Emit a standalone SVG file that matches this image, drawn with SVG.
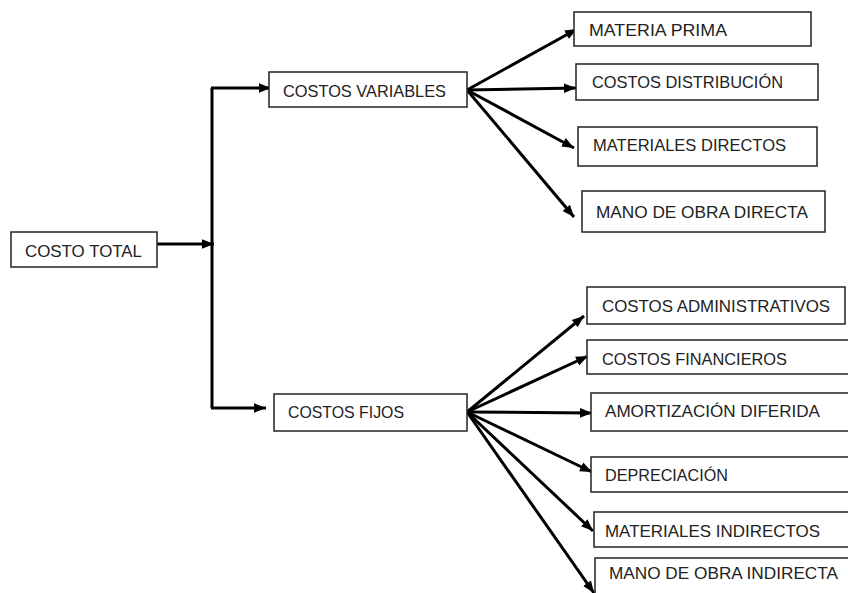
<svg xmlns="http://www.w3.org/2000/svg" width="848" height="593" viewBox="0 0 848 593">
<style>
.box{fill:#fff;stroke:#222;stroke-width:1.5}
.t{font-family:"Liberation Sans",Arial,sans-serif;font-size:17px;fill:#222}
.c{fill:none;stroke:#000;stroke-width:3;marker-end:url(#ah)}
.e{fill:none;stroke:#000;stroke-width:3}
</style>
<defs>
<marker id="ah" markerUnits="userSpaceOnUse" markerWidth="12" markerHeight="12" viewBox="0 0 10 10" refX="10" refY="5" orient="auto">
<path d="M0,1 L10,5 L0,9 z" fill="#000"/>
</marker>
</defs>
<rect width="848" height="593" fill="#fff"/>
<g id="connectors">
<path class="e" d="M157,244 H205"/>
<path class="c" d="M205,244 H214"/>
<path class="e" d="M212,408 V88"/>
<path class="c" d="M211,88 H271"/>
<path class="c" d="M211,408 H266"/>
<line class="c" x1="467" y1="90" x2="577" y2="29"/>
<line class="c" x1="467" y1="90" x2="576" y2="88"/>
<line class="c" x1="467" y1="90" x2="574" y2="148"/>
<line class="c" x1="467" y1="90" x2="574" y2="217"/>
<line class="c" x1="467" y1="412" x2="584" y2="316"/>
<line class="c" x1="467" y1="412" x2="588" y2="356"/>
<line class="c" x1="467" y1="412" x2="592" y2="413"/>
<line class="c" x1="467" y1="412" x2="592" y2="472"/>
<line class="c" x1="467" y1="412" x2="593" y2="531"/>
<line class="c" x1="467" y1="412" x2="594" y2="593"/>
</g>
<g id="n-total"><rect class="box" x="11" y="232" width="146" height="35"/><text class="t" x="25" y="257" textLength="117" lengthAdjust="spacingAndGlyphs">COSTO TOTAL</text></g>
<g id="n-variables"><rect class="box" x="269" y="72" width="198" height="35"/><text class="t" x="283" y="97" textLength="163" lengthAdjust="spacingAndGlyphs">COSTOS VARIABLES</text></g>
<g id="n-fijos"><rect class="box" x="274" y="394" width="193" height="37"/><text class="t" x="288" y="418" textLength="116" lengthAdjust="spacingAndGlyphs">COSTOS FIJOS</text></g>
<g id="n-materia"><rect class="box" x="574" y="12" width="237" height="34"/><text class="t" x="589" y="36" textLength="138" lengthAdjust="spacingAndGlyphs">MATERIA PRIMA</text></g>
<g id="n-distribucion"><rect class="box" x="576" y="64" width="242" height="36"/><text class="t" x="592" y="88" textLength="191" lengthAdjust="spacingAndGlyphs">COSTOS DISTRIBUCIÓN</text></g>
<g id="n-matdirectos"><rect class="box" x="578" y="127" width="239" height="39"/><text class="t" x="593" y="151" textLength="193" lengthAdjust="spacingAndGlyphs">MATERIALES DIRECTOS</text></g>
<g id="n-mododirecta"><rect class="box" x="582" y="191" width="243" height="41"/><text class="t" x="596" y="218" textLength="212" lengthAdjust="spacingAndGlyphs">MANO DE OBRA DIRECTA</text></g>
<g id="n-admin"><rect class="box" x="587" y="287" width="258" height="37"/><text class="t" x="602" y="312" textLength="228" lengthAdjust="spacingAndGlyphs">COSTOS ADMINISTRATIVOS</text></g>
<g id="n-financieros"><rect class="box" x="587" y="340" width="265" height="34"/><text class="t" x="602" y="365" textLength="185" lengthAdjust="spacingAndGlyphs">COSTOS FINANCIEROS</text></g>
<g id="n-amortizacion"><rect class="box" x="591" y="393" width="261" height="38"/><text class="t" x="605" y="417" textLength="215" lengthAdjust="spacingAndGlyphs">AMORTIZACIÓN DIFERIDA</text></g>
<g id="n-depreciacion"><rect class="box" x="591" y="457" width="261" height="35"/><text class="t" x="605" y="481" textLength="123" lengthAdjust="spacingAndGlyphs">DEPRECIACIÓN</text></g>
<g id="n-matindirectos"><rect class="box" x="594" y="512" width="258" height="35"/><text class="t" x="605" y="537" textLength="215" lengthAdjust="spacingAndGlyphs">MATERIALES INDIRECTOS</text></g>
<g id="n-moindirecta"><rect class="box" x="595" y="558" width="257" height="40"/><text class="t" x="609" y="579" textLength="229" lengthAdjust="spacingAndGlyphs">MANO DE OBRA INDIRECTA</text></g>
</svg>
